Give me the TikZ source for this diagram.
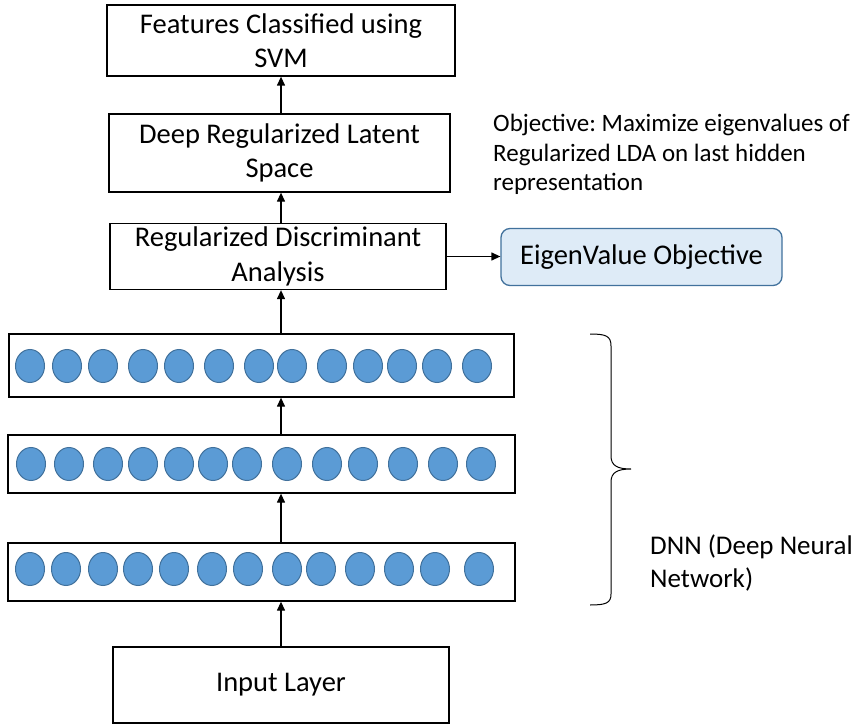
\documentclass[tikz,border=0pt]{standalone}
\usepackage{fontspec}
\setmainfont{Carlito}
\usetikzlibrary{shapes.geometric,arrows.meta}
\definecolor{neuronfill}{HTML}{5B9BD5}
\definecolor{neuronline}{HTML}{41719C}
\definecolor{eigenfill}{HTML}{DEEBF7}
\frenchspacing
\tikzset{
  box/.style={draw=black, line width=1.3pt, fill=white, inner sep=2pt, align=center,
    font=\fontsize{28.5}{34.5}\selectfont},
  layerbox/.style={draw=black, line width=1.3pt, fill=white, inner sep=0pt},
  neuron/.style={ellipse, draw=neuronline, line width=1pt, fill=neuronfill,
    minimum width=29pt, minimum height=33pt, inner sep=0pt},
  eigenbox/.style={draw=neuronline, line width=1.3pt, fill=eigenfill, rounded corners=9pt,
    align=center, font=\fontsize{28.5}{34}\selectfont},
  arr/.style={line width=1.3pt, -{Triangle[length=9pt,width=8pt]}},
  note/.style={align=left, inner sep=0pt, font=\fontsize{25}{29.5}\selectfont},
}
\begin{document}
\begin{tikzpicture}[x=1pt,y=-1pt]
\useasboundingbox (0,0) rectangle (863,725);
% top boxes
\node[box, minimum width=348pt, minimum height=71pt] (B1) at (281,40.5) {Features Classified using\\SVM};
\node[box, minimum width=341pt, minimum height=78pt] (B2) at (279.5,153) {Deep Regularized Latent\\Space};
\node[box, minimum width=336pt, minimum height=66pt] (B3) at (278,256.5) {Regularized Discriminant\\Analysis};
\node[eigenbox, minimum width=281pt, minimum height=57pt] (EV) at (641.5,257) {EigenValue Objective};
% layers
\node[layerbox, minimum width=505pt, minimum height=63pt] (L1) at (261.5,365.5) {};
\node[layerbox, minimum width=507pt, minimum height=58pt] (L2) at (261.5,464) {};
\node[layerbox, minimum width=507pt, minimum height=58pt] (L3) at (261.5,572) {};
\node[box, minimum width=336pt, minimum height=76pt] (IN) at (281,685) {Input Layer};
% neurons
\foreach \x [count=\i] in {30,67,103,143,179,219,259,292,332,368,402,437,477}
  \node[neuron] (n1-\i) at (\x,366) {};
\foreach \x [count=\i] in {31,69,108,143,179,213,247,287,327,363,403,443,481}
  \node[neuron] (n2-\i) at (\x,464) {};
\foreach \x [count=\i] in {30,66,103,138,174,212,248,287,321,360,399,435,479}
  \node[neuron] (n3-\i) at (\x,569) {};
% arrows
\coordinate (ax) at (281,0);
\draw[arr] (IN.north -| ax) -- (L3.south -| ax);
\draw[arr] (L3.north -| ax) -- (L2.south -| ax);
\draw[arr] (L2.north -| ax) -- (L1.south -| ax);
\draw[arr] (L1.north -| ax) -- (B3.south -| ax);
\draw[arr] (B3.north -| ax) -- (B2.south -| ax);
\draw[arr] (B2.north -| ax) -- (B1.south -| ax);
\draw[arr] (B3.east) -- (EV.west |- B3.east);
% notes
\node[note, anchor=north west] (obj) at (493,114) {Objective: Maximize eigenvalues of\\Regularized LDA on last hidden\\representation};
\node[note, anchor=north west, font=\fontsize{27}{33}\selectfont] (dnn) at (650,535) {DNN (Deep Neural\\Network)};
% brace
\draw[line width=1pt] (590,334) .. controls (606,334) and (611,336) .. (611,346) -- (611,456)
  .. controls (611,466) and (618,469) .. (631,469)
  .. controls (618,469) and (611,472) .. (611,482) -- (611,594)
  .. controls (611,603) and (606,605) .. (590,605);
\end{tikzpicture}
\end{document}
